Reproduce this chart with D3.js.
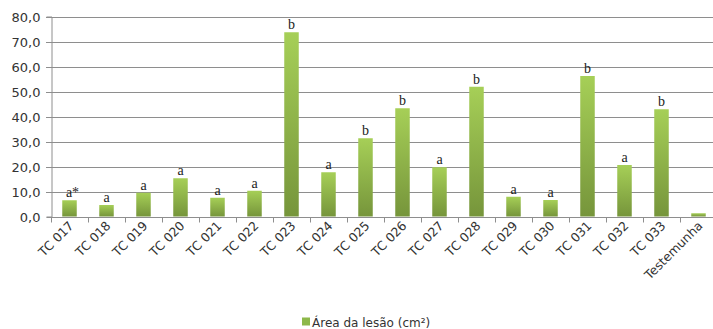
<!DOCTYPE html>
<html><head><meta charset="utf-8">
<script src="https://cdn.jsdelivr.net/npm/d3@7"></script>
<style>html,body{margin:0;padding:0;background:#fff;}svg{display:block;}</style>
</head><body>
<script>
const categories = ["TC 017","TC 018","TC 019","TC 020","TC 021","TC 022","TC 023","TC 024","TC 025","TC 026","TC 027","TC 028","TC 029","TC 030","TC 031","TC 032","TC 033","Testemunha"];
const values = [6.5, 4.6, 9.5, 15.3, 7.5, 10.3, 73.7, 17.7, 31.3, 43.3, 19.7, 51.9, 7.9, 6.6, 56.2, 20.6, 42.9, 1.3];
const letters = ["a*","a","a","a","a","a","b","a","b","b","a","b","a","a","b","a","b",""];
const yTicks = [0,10,20,30,40,50,60,70,80];
const seriesName = "Área da lesão (cm²)";

(function () {
const W = 713, H = 329;
const svg = d3.select("body").append("svg").attr("width", W).attr("height", H);
const defs = svg.append("defs");
const grad = defs.append("linearGradient").attr("id","g").attr("x1",0).attr("y1",0).attr("x2",0).attr("y2",1);
grad.append("stop").attr("offset","0%").attr("stop-color","#a6cf57");
grad.append("stop").attr("offset","100%").attr("stop-color","#76953b");

const mL = 51, mR = 717, mT = 16.5, mB = 216.5;
const x = d3.scaleBand().domain(categories).range([mL, mR]).paddingInner(0).paddingOuter(0);
const y = d3.scaleLinear().domain([0, 80]).range([mB, mT]);

// gridlines
svg.append("g").selectAll("line").data(yTicks.filter(d => d > 0)).join("line")
  .attr("x1", mL - 5).attr("x2", W).attr("y1", d => Math.round(y(d)) + 0.5).attr("y2", d => Math.round(y(d)) + 0.5)
  .attr("stroke", "#8e8e8e").attr("stroke-width", 1);

// y axis
const yAxis = svg.append("g").attr("transform", `translate(${mL + 0.5},0)`)
  .call(d3.axisLeft(y).tickValues(yTicks).tickSize(5).tickPadding(6).tickFormat(d => d3.format(".1f")(d).replace(".", ",")));
yAxis.select(".domain").attr("stroke", "#8e8e8e");
yAxis.selectAll(".tick line").attr("stroke", "#8e8e8e");
yAxis.selectAll(".tick").attr("transform", d => `translate(0,${Math.round(y(d)) + 0.5})`);
yAxis.selectAll("text").attr("font-family", "DejaVu Sans").attr("font-size", 13).attr("fill", "#333");

// bars
const bw = 14.5;
svg.append("g").selectAll("rect").data(values).join("rect")
  .attr("x", (d, i) => x(categories[i]) + x.bandwidth() / 2 - bw / 2)
  .attr("y", d => y(d)).attr("width", bw).attr("height", d => mB - y(d))
  .attr("fill", "url(#g)");

// x axis
const xAxis = svg.append("g").attr("transform", `translate(0,${Math.round(mB) + 0.5})`);
xAxis.append("line").attr("x1", mL).attr("x2", W).attr("stroke", "#8e8e8e");
const bounds = categories.map(c => x(c)).concat([mR]);
xAxis.selectAll("line.t").data(bounds).join("line").attr("class", "t")
  .attr("x1", d => Math.round(d) + 0.5).attr("x2", d => Math.round(d) + 0.5).attr("y1", 0).attr("y2", 5).attr("stroke", "#8e8e8e");
svg.append("g").selectAll("text").data(categories).join("text")
  .attr("transform", d => `translate(${x(d) + x.bandwidth() / 2 + 5},${mB + 10}) rotate(-45)`)
  .attr("text-anchor", "end").attr("font-family", "DejaVu Sans").attr("font-size", 12.5).attr("fill", "#333")
  .text(d => d);

// letter labels
svg.append("g").selectAll("text").data(letters).join("text")
  .attr("x", (d, i) => x(categories[i]) + x.bandwidth() / 2 + (d === "a*" ? 3 : 0))
  .attr("y", (d, i) => y(values[i]) - 3)
  .attr("text-anchor", "middle").attr("font-family", "Liberation Serif").attr("font-size", 14).attr("fill", "#222")
  .text(d => d);

// legend
svg.append("rect").attr("x", 302).attr("y", 317.5).attr("width", 8).attr("height", 8).attr("fill", "#8db84a");
svg.append("text").attr("x", 312).attr("y", 326.5).attr("font-family", "DejaVu Sans").attr("font-size", 12).attr("fill", "#333").text(seriesName);
})();
</script>
</body></html>
